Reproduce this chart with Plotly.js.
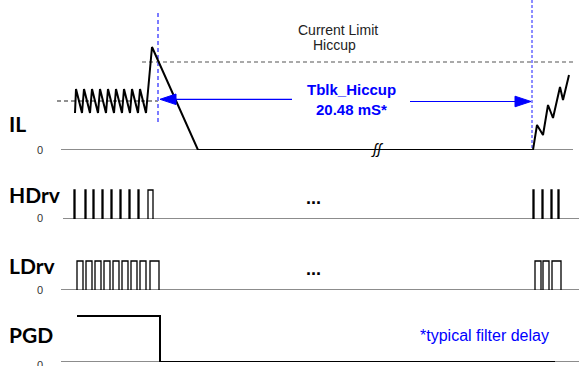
<!DOCTYPE html>
<html><head><meta charset="utf-8">
<script src="https://cdn.plot.ly/plotly-3.0.1.min.js"></script>
<style>html,body{margin:0;padding:0;background:#fff}#c{width:579px;height:366px}</style>
</head><body><div id="c"></div>
<script>
// ---- data (time in arbitrary units, levels per signal) ----
const ilTime  = [75,76,82,84,90,92,98,100,106,108,114,116,122,124,130,132,138,140,146,152,198,533,537,543,548,553,560,563,569];
const ilLevel = [3.7,6.1,3.7,6.1,3.7,6.1,3.7,6.1,3.7,6.1,3.7,6.1,3.7,6.1,3.7,6.1,3.7,6.1,3.7,10.3,0,0,2.5,1.5,4.5,3.2,6.3,5.0,7.5];
const ilRegLevel = 4.9;      // regulation level (left dashed)
const ilLimitLevel = 8.8;    // current limit level
const hdrvRise = [74,85,93,102,111,120,129,138,148,533,542,551,558];
const hdrvFall = [75,86,94,103,112,121,130,139,153,534,543,552,559];
const ldrvRise = [77,86,95,104,113,122,131,140,150,535,543,552];
const ldrvFall = [83,92,101,110,119,128,137,146,159,541,549,561];
const pgdTime  = [77,160,160,555];
const pgdLevel = [1,1,0,0];
const faultTime = 158, restartTime = 532;
const blankLabel = ['Tblk_Hiccup','20.48 mS*'];
const signalNames = ['IL','HDrv','LDrv','PGD'];

// ---- helpers ----
function pulses(r, f){const x=[],y=[];for(let i=0;i<r.length;i++){x.push(r[i],r[i],f[i],f[i],null);y.push(0,1,1,0,null);}return {x,y};}
const base = (ax,x0,x1)=>({x:[x0,x1],y:[0,0],yaxis:ax,mode:'lines',line:{color:'#666',width:1.5},hoverinfo:'skip'});
const traces = [];
traces.push(base('y',61,573),base('y2',63,579),base('y3',61,579),base('y4',61,579));
// IL
traces.push({x:[57,faultTime],y:[ilRegLevel,ilRegLevel],yaxis:'y',mode:'lines',line:{color:'#222',width:1.2,dash:'4px,3px'}});
traces.push({x:[142,576],y:[ilLimitLevel,ilLimitLevel],yaxis:'y',mode:'lines',line:{color:'#555',width:1.2,dash:'4px,3px'}});
traces.push({x:[faultTime,faultTime],y:[13.7,2.7],yaxis:'y',mode:'lines',line:{color:'#7b7bff',width:2,dash:'4px,3px'}});
traces.push({x:[restartTime,restartTime],y:[15,0.2],yaxis:'y',mode:'lines',line:{color:'#1a1aff',width:1,dash:'3px,2px'}});
traces.push({x:ilTime,y:ilLevel,yaxis:'y',mode:'lines',line:{color:'#000',width:2}});
// arrows
traces.push({x:[176,292],y:[5.07,5.07],yaxis:'y',mode:'lines',line:{color:'#0000ff',width:1.2}});
traces.push({x:[410,515],y:[4.85,4.85],yaxis:'y',mode:'lines',line:{color:'#0000ff',width:1.2}});
traces.push({x:[160,176,176,160],y:[5.07,5.6,4.54,5.07],yaxis:'y',mode:'lines',fill:'toself',fillcolor:'#0000ff',line:{color:'#0000ff',width:1}});
traces.push({x:[531,515,515,531],y:[4.85,5.38,4.32,4.85],yaxis:'y',mode:'lines',fill:'toself',fillcolor:'#0000ff',line:{color:'#0000ff',width:1}});
// HDrv / LDrv / PGD
const h=pulses(hdrvRise,hdrvFall); traces.push({x:h.x,y:h.y,yaxis:'y2',mode:'lines',line:{color:'#000',width:1.3}});
const l=pulses(ldrvRise,ldrvFall); traces.push({x:l.x,y:l.y,yaxis:'y3',mode:'lines',line:{color:'#000',width:1.3}});
traces.push({x:pgdTime,y:pgdLevel,yaxis:'y4',mode:'lines',line:{color:'#000',width:2}});
traces.forEach(t=>{t.showlegend=false;t.hoverinfo='skip';});

const hid = {showgrid:false,zeroline:false,showticklabels:false,showline:false,ticks:''};
const lab = (text,y,yref)=>({text,x:7,y,xref:'x',yref,xanchor:'left',yanchor:'middle',showarrow:false,font:{family:'Lato, sans-serif',size:21,color:'#000',weight:'bold'}});
const zero = (y,yref)=>({text:'0',x:40,y,xref:'x',yref,xanchor:'center',yanchor:'middle',showarrow:false,font:{family:'Liberation Sans, Arial',size:11,color:'#333'}});
const txt = (text,x,y,yref,size,color,bold,style)=>({text,x,y,xref:'x',yref,xanchor:'center',yanchor:'middle',showarrow:false,font:{family:'Liberation Sans, Arial',size,color,weight:bold?'bold':'normal',style:style||'normal'}});
const annotations = [
  lab(signalNames[0],2.6,'y'), lab(signalNames[1],0.83,'y2'), lab(signalNames[2],0.83,'y3'), lab(signalNames[3],0.59,'y4'),
  zero(0,'y'), zero(0.03,'y2'), zero(0,'y3'), zero(0.004,'paper'),
  txt('Current Limit',338,12.05,'y',14,'#222',false),
  txt('Hiccup',334,10.5,'y',14,'#222',false),
  txt(blankLabel[0],351,6.0,'y',15,'#0000ff',true),
  txt(blankLabel[1],351,4.0,'y',15,'#0000ff',true),
  txt('...',313,0.72,'y2',18,'#000',true),
  txt('...',313,0.72,'y3',18,'#000',true),
  txt('ʃʃ',377,0.1,'y',15,'#000',false,'italic'),
  txt('*typical filter delay',484,0.57,'y4',16,'#0000ff',false)
];
const layout = {
  width:579,height:366,margin:{l:0,r:0,t:0,b:0},paper_bgcolor:'#fff',plot_bgcolor:'#fff',
  xaxis:Object.assign({range:[0,579]},hid),
  yaxis:Object.assign({domain:[0.5902,1],range:[0,15]},hid),
  yaxis2:Object.assign({domain:[0.4016,0.5355],range:[0,1.69]},hid),
  yaxis3:Object.assign({domain:[0.2077,0.3415],range:[0,1.69]},hid),
  yaxis4:Object.assign({domain:[0.0109,0.1803],range:[0,1.348]},hid),
  annotations, showlegend:false
};
Plotly.newPlot('c',traces,layout,{displayModeBar:false,staticPlot:true});
</script></body></html>
